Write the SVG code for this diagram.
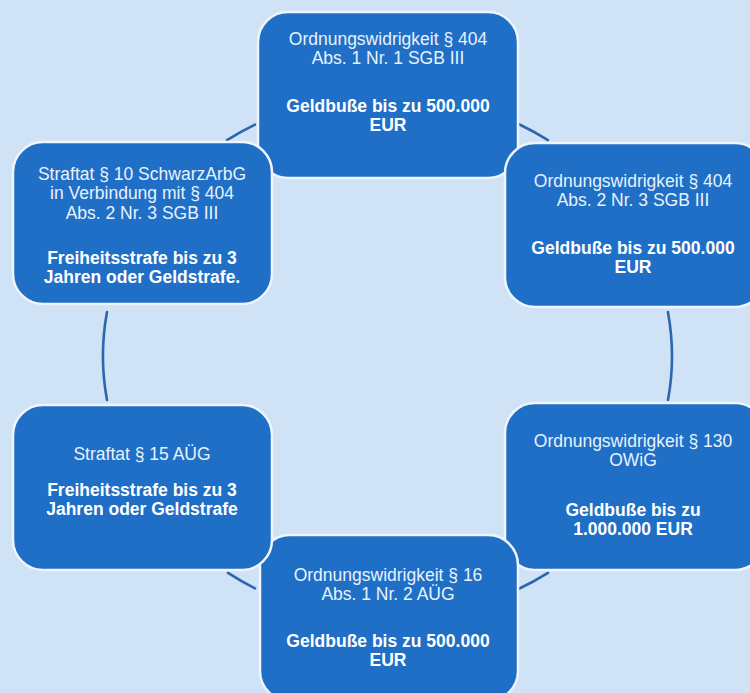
<svg xmlns="http://www.w3.org/2000/svg" width="750" height="693" viewBox="0 0 750 693">
  <style>
    .bg { fill: #cfe2f6; }
    .box { fill: #1f6fc6; stroke: #eef5fd; stroke-width: 2.5; }
    .arc { fill: none; stroke: #2b66b0; stroke-width: 2.6; stroke-linecap: round; }
    text { font-family: "Liberation Sans", Arial, sans-serif; font-size: 17.5px; text-anchor: middle; }
    .n { fill: #e9f2fc; }
    .b { fill: #ffffff; font-weight: bold; }
  </style>
  <rect class="bg" x="0" y="0" width="750" height="693"/>
  <g id="connectors">
    <path class="arc" d="M227,140.1 A284.5,262 0 0 1 255,124.6"/>
    <path class="arc" d="M518,123.7 A284.5,262 0 0 1 548,140.1"/>
    <path class="arc" d="M667.9,312 A284.5,262 0 0 1 668,400"/>
    <path class="arc" d="M548,572.9 A284.5,262 0 0 1 518,589.3"/>
    <path class="arc" d="M255,588.4 A284.5,262 0 0 1 228,572.9"/>
    <path class="arc" d="M107,400 A284.5,262 0 0 1 107,312"/>
  </g>
  <g id="node-top">
    <rect class="box" x="258" y="12" width="260" height="166" rx="30" ry="30"/>
    <text class="n" x="388" y="44.75">Ordnungswidrigkeit § 404</text>
    <text class="n" x="388" y="64.25">Abs. 1 Nr. 1 SGB III</text>
    <text class="b" x="388" y="111.75">Geldbuße bis zu 500.000</text>
    <text class="b" x="388" y="131.25">EUR</text>
  </g>
  <g id="node-right-upper">
    <rect class="box" x="505" y="143" width="260" height="164" rx="30" ry="30"/>
    <text class="n" x="633" y="186.75">Ordnungswidrigkeit § 404</text>
    <text class="n" x="633" y="206.25">Abs. 2 Nr. 3 SGB III</text>
    <text class="b" x="633" y="253.75">Geldbuße bis zu 500.000</text>
    <text class="b" x="633" y="273.25">EUR</text>
  </g>
  <g id="node-right-lower">
    <rect class="box" x="505" y="403" width="260" height="167" rx="30" ry="30"/>
    <text class="n" x="633" y="446.75">Ordnungswidrigkeit § 130</text>
    <text class="n" x="633" y="466.25">OWiG</text>
    <text class="b" x="633" y="515.75">Geldbuße bis zu</text>
    <text class="b" x="633" y="535.25">1.000.000 EUR</text>
  </g>
  <g id="node-bottom">
    <rect class="box" x="260" y="535" width="258" height="166" rx="30" ry="30"/>
    <text class="n" x="388" y="580.75">Ordnungswidrigkeit § 16</text>
    <text class="n" x="388" y="600.25">Abs. 1 Nr. 2 AÜG</text>
    <text class="b" x="388" y="646.75">Geldbuße bis zu 500.000</text>
    <text class="b" x="388" y="666.25">EUR</text>
  </g>
  <g id="node-left-lower">
    <rect class="box" x="13" y="405" width="259" height="165" rx="30" ry="30"/>
    <text class="n" x="142" y="460">Straftat § 15 AÜG</text>
    <text class="b" x="142" y="495.75">Freiheitsstrafe bis zu 3</text>
    <text class="b" x="142" y="515.25">Jahren oder Geldstrafe</text>
  </g>
  <g id="node-left-upper">
    <rect class="box" x="13" y="142" width="259" height="162" rx="30" ry="30"/>
    <text class="n" x="142" y="179.5">Straftat § 10 SchwarzArbG</text>
    <text class="n" x="142" y="199">in Verbindung mit § 404</text>
    <text class="n" x="142" y="218.5">Abs. 2 Nr. 3 SGB III</text>
    <text class="b" x="142" y="263.75">Freiheitsstrafe bis zu 3</text>
    <text class="b" x="142" y="283.25">Jahren oder Geldstrafe.</text>
  </g>
</svg>
